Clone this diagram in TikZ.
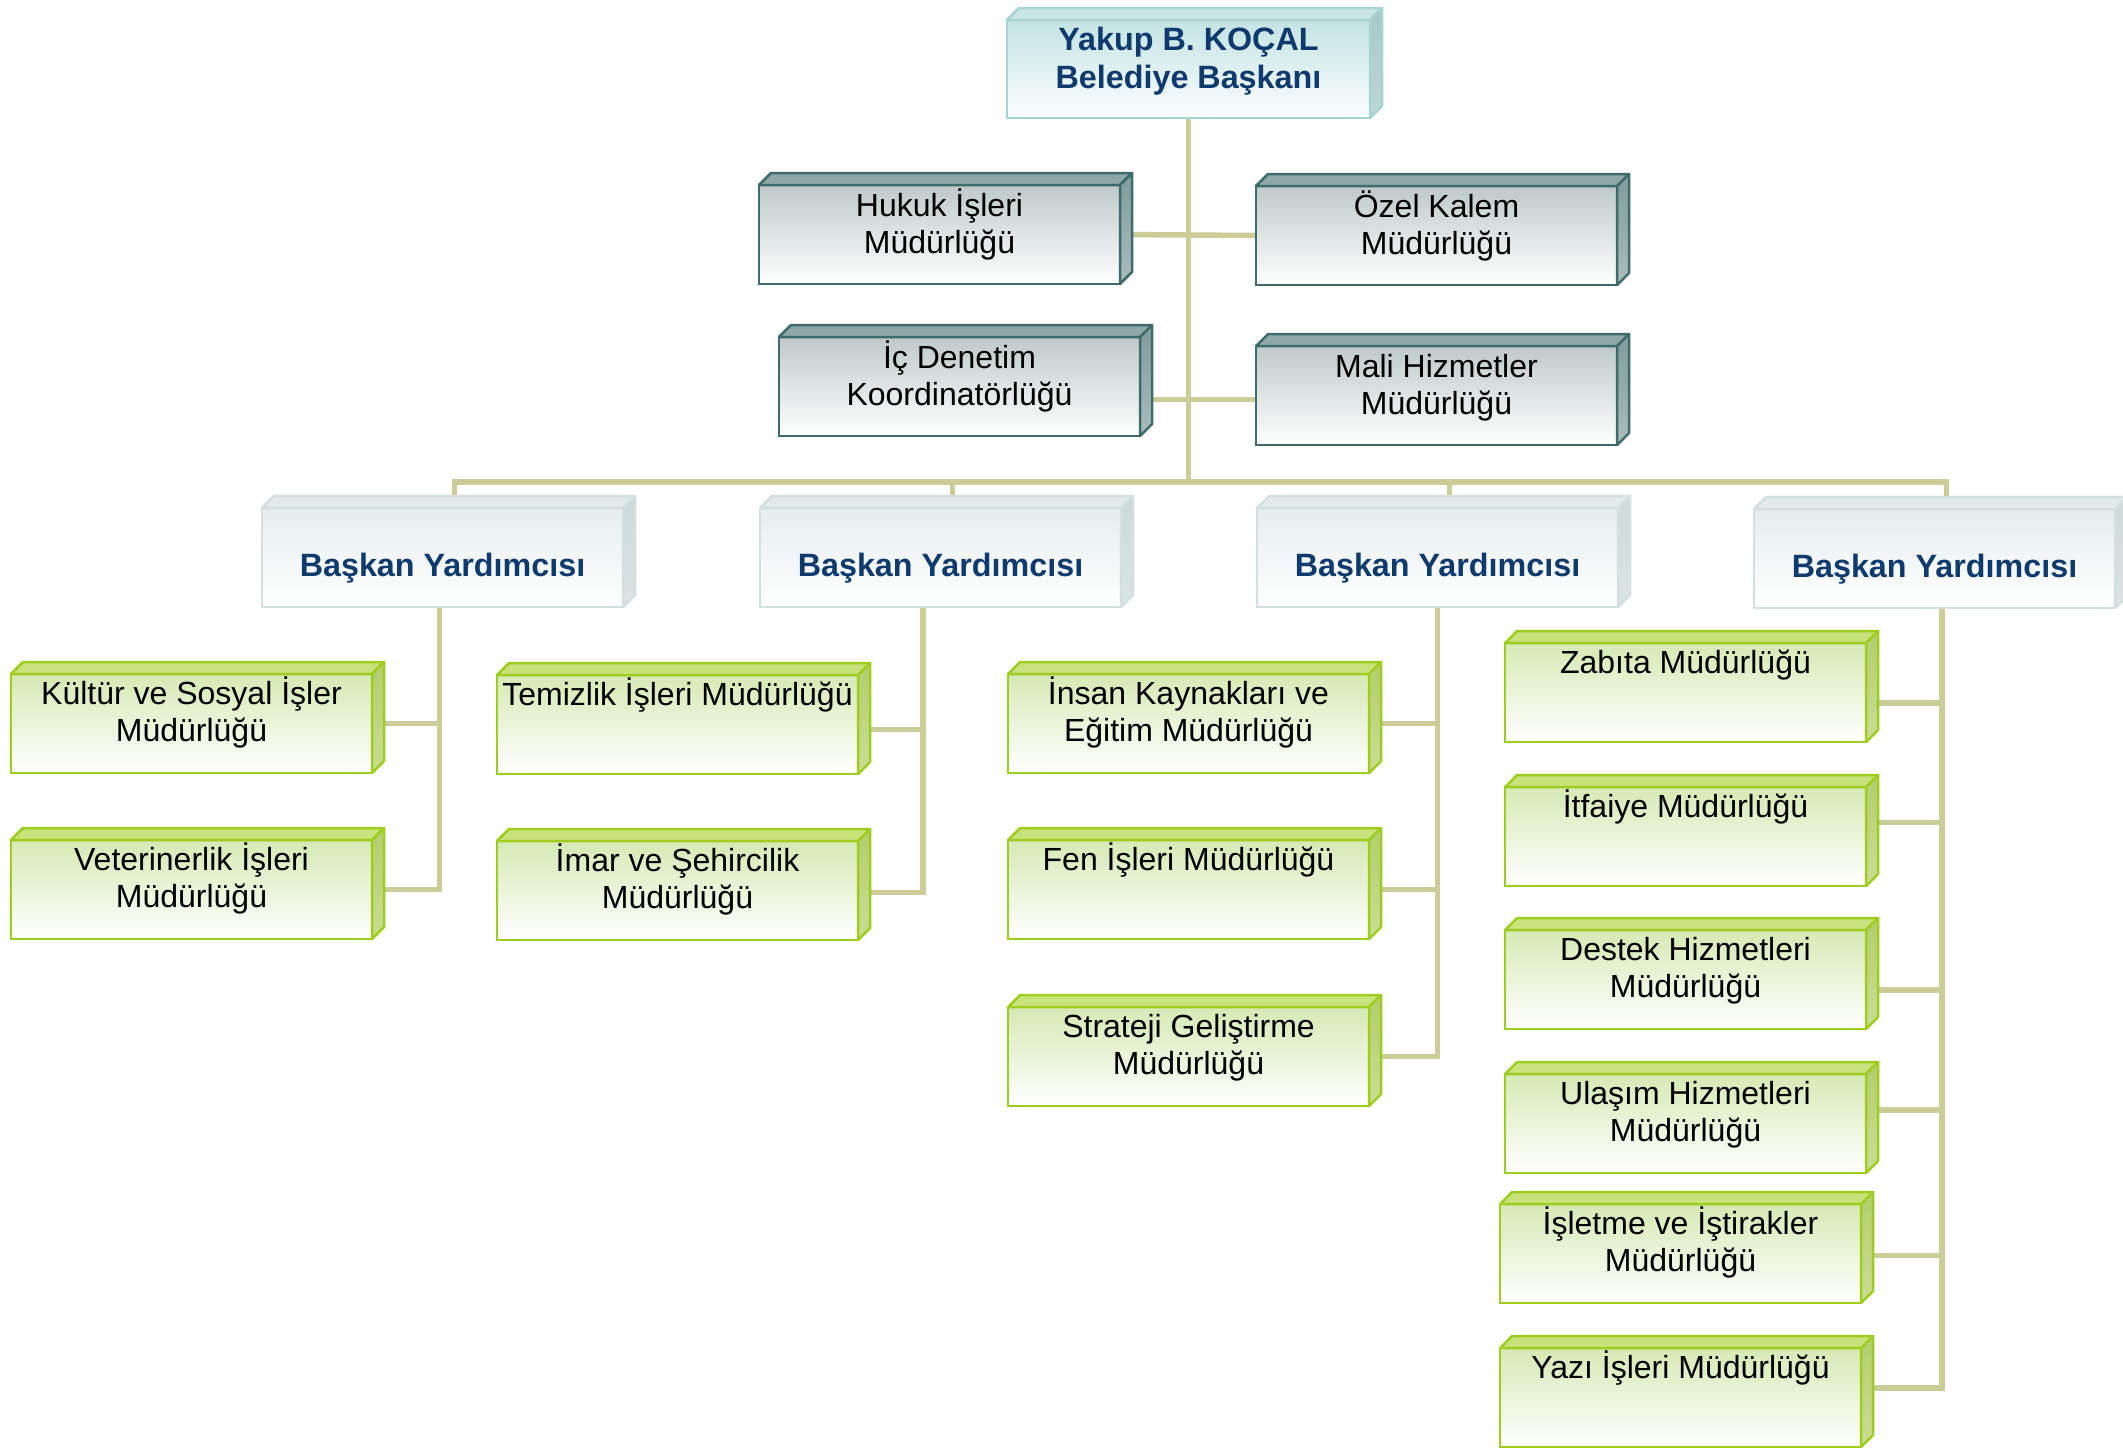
\documentclass[tikz,border=0pt]{standalone}
\usepackage{fontspec}
\setmainfont{Liberation Sans}
\usetikzlibrary{backgrounds,calc}
\definecolor{connc}{HTML}{CCCC99}
\definecolor{bluetxt}{HTML}{0E3A6E}
% green
\definecolor{gbord}{HTML}{9DCD1E}
\definecolor{gtopc}{HTML}{D6E9B4}
\definecolor{gface}{HTML}{C8E27C}
\definecolor{gsideA}{HTML}{B2CE6C}
\definecolor{gsideB}{HTML}{CADD95}
% gray
\definecolor{kbord}{HTML}{3E6B6B}
\definecolor{ktopc}{HTML}{BFC9C9}
\definecolor{kface}{HTML}{8FA7A7}
\definecolor{ksideA}{HTML}{7F9B9B}
\definecolor{ksideB}{HTML}{AABDBD}
% vice
\definecolor{vbord}{HTML}{D3E0E0}
\definecolor{vtopc}{HTML}{E6EDED}
\definecolor{vface}{HTML}{E2EAEA}
\definecolor{vsideA}{HTML}{CDD9D9}
\definecolor{vsideB}{HTML}{DCE4E4}
% president
\definecolor{pbord}{HTML}{A6D3D3}
\definecolor{ptopc}{HTML}{C4E3E3}
\definecolor{pface}{HTML}{C8E4E4}
\definecolor{psideA}{HTML}{A9C8C8}
\definecolor{psideB}{HTML}{BDD6D6}

\tikzset{
  conn/.style={draw=connc, line width=5.5pt},
  frontbase/.style={anchor=north west, minimum width=361pt, minimum height=99pt,
    inner sep=0pt, outer sep=0pt, line width=2.5pt},
  gfront/.style={frontbase, draw=gbord, top color=gtopc, bottom color=white},
  gtopf/.style={fill=gface, draw=gbord, line width=2.5pt, line join=round},
  gsidef/.style={top color=gsideA, bottom color=gsideB, draw=gbord, line width=2.5pt, line join=round},
  kfront/.style={frontbase, draw=kbord, top color=ktopc, bottom color=white},
  ktopf/.style={fill=kface, draw=kbord, line width=2.5pt, line join=round},
  ksidef/.style={top color=ksideA, bottom color=ksideB, draw=kbord, line width=2.5pt, line join=round},
  vfront/.style={frontbase, draw=vbord, top color=vtopc, bottom color=white},
  vtopf/.style={fill=vface, draw=vbord, line width=2.5pt, line join=round},
  vsidef/.style={top color=vsideA, bottom color=vsideB, draw=vbord, line width=2.5pt, line join=round},
  pfront/.style={frontbase, minimum width=363pt, minimum height=98pt, draw=pbord, top color=ptopc, bottom color=white!96!pbord},
  ptopf/.style={fill=pface, draw=pbord, line width=2.5pt, line join=round},
  psidef/.style={top color=psideA, bottom color=psideB, draw=pbord, line width=2.5pt, line join=round},
  txt/.style={align=center, inner sep=0pt, text=black, font=\fontsize{32}{37}\selectfont},
  btxt/.style={align=center, inner sep=0pt, text=bluetxt, font=\fontsize{32.3}{38}\selectfont\bfseries},
}

% #1 name, #2 kind, #3 x, #4 y, #5 offset of last baseline, #6 text style, #7 text
\newcommand{\obox}[7]{%
  \node[#2front] (#1) at (#3,#4) {};
  \path[#2topf] (#1.north west) -- ++(12pt,12pt) -- ([shift={(12pt,12pt)}]#1.north east) -- (#1.north east) -- cycle;
  \path[#2sidef] (#1.north east) -- ([shift={(12pt,12pt)}]#1.north east) -- ([shift={(12pt,12pt)}]#1.south east) -- (#1.south east) -- cycle;
  \node[#6, anchor=base] (#1-t) at ([yshift=-#5pt]#1.north) {#7};
}

\begin{document}
\begin{tikzpicture}[x=1pt,y=-1pt]
\useasboundingbox (0,0) rectangle (2123,1448);

% president
\obox{pres}{p}{1007}{20}{68}{btxt}{Yakup B. KOÇAL\\Belediye Başkanı}

% staff offices
\obox{hukuk}{k}{759}{185}{68}{txt}{Hukuk İşleri\\Müdürlüğü}
\obox{ozel}{k}{1256}{186}{68}{txt}{Özel Kalem\\Müdürlüğü}
\obox{icd}{k}{779}{337}{68}{txt}{İç Denetim\\Koordinatörlüğü}
\obox{mali}{k}{1256}{346}{68}{txt}{Mali Hizmetler\\Müdürlüğü}

% vice presidents
\obox{vp1}{v}{262}{508}{68}{btxt}{Başkan Yardımcısı}
\obox{vp2}{v}{760}{508}{68}{btxt}{Başkan Yardımcısı}
\obox{vp3}{v}{1257}{508}{68}{btxt}{Başkan Yardımcısı}
\obox{vp4}{v}{1754}{509}{68}{btxt}{Başkan Yardımcısı}

% column 1
\obox{kultur}{g}{11}{674}{67}{txt}{Kültür ve Sosyal İşler\\Müdürlüğü}
\obox{vet}{g}{11}{840}{67}{txt}{Veterinerlik İşleri\\Müdürlüğü}
% column 2
\obox{temiz}{g}{497}{675}{30}{txt}{Temizlik İşleri Müdürlüğü}
\obox{imar}{g}{497}{841}{67}{txt}{İmar ve Şehircilik\\Müdürlüğü}
% column 3
\obox{insan}{g}{1008}{674}{67}{txt}{İnsan Kaynakları ve\\Eğitim Müdürlüğü}
\obox{fen}{g}{1008}{840}{30}{txt}{Fen İşleri Müdürlüğü}
\obox{strat}{g}{1008}{1007}{67}{txt}{Strateji Geliştirme\\Müdürlüğü}
% column 4
\obox{zab}{g}{1505}{643}{30}{txt}{Zabıta Müdürlüğü}
\obox{itf}{g}{1505}{787}{30}{txt}{İtfaiye Müdürlüğü}
\obox{des}{g}{1505}{930}{67}{txt}{Destek Hizmetleri\\Müdürlüğü}
\obox{ula}{g}{1505}{1074}{67}{txt}{Ulaşım Hizmetleri\\Müdürlüğü}
\obox{isl}{g}{1500}{1204}{67}{txt}{İşletme ve İştirakler\\Müdürlüğü}
\obox{yaz}{g}{1500}{1348}{30}{txt}{Yazı İşleri Müdürlüğü}

\begin{pgfonlayer}{background}
\coordinate (bus) at (1189,482);
\draw[conn] (pres.south) -- (pres.south |- bus);
\draw[conn] (hukuk.east) -- (ozel.west);
\draw[conn] ([yshift=-4pt]mali.west) -- ([yshift=-4pt]mali.west -| icd.east);
\draw[conn] ([xshift=12pt]vp1.north) -- ([xshift=12pt]vp1.north |- bus) -- ([xshift=12pt]vp4.north |- bus) -- ([xshift=12pt]vp4.north);
\draw[conn] ([xshift=12pt]vp2.north) -- ([xshift=12pt]vp2.north |- bus);
\draw[conn] ([xshift=12pt]vp3.north) -- ([xshift=12pt]vp3.north |- bus);
% vp1
\draw[conn] ([xshift=-3pt]vp1.south) |- (kultur.east);
\draw[conn] ([xshift=-3pt]vp1.south) |- (vet.east);
% vp2
\draw[conn] ([xshift=-17.5pt]vp2.south) |- ([yshift=-5pt]temiz.east);
\draw[conn] ([xshift=-17.5pt]vp2.south) |- ([yshift=-2pt]imar.east);
% vp3
\draw[conn] (vp3.south) |- (insan.east);
\draw[conn] (vp3.south) |- (fen.east);
\draw[conn] (vp3.south) |- (strat.east);
% vp4
\draw[conn] ([xshift=7.5pt]vp4.south) |- ([yshift=-10.5pt]zab.east);
\draw[conn] ([xshift=7.5pt]vp4.south) |- ([yshift=14pt]itf.east);
\draw[conn] ([xshift=7.5pt]vp4.south) |- ([yshift=-10.5pt]des.east);
\draw[conn] ([xshift=7.5pt]vp4.south) |- ([yshift=13.5pt]ula.east);
\draw[conn] ([xshift=7.5pt]vp4.south) |- ([yshift=-2pt]isl.east);
\draw[conn] ([xshift=7.5pt]vp4.south) |- ([yshift=9.5pt]yaz.east);
\end{pgfonlayer}
\end{tikzpicture}
\end{document}
